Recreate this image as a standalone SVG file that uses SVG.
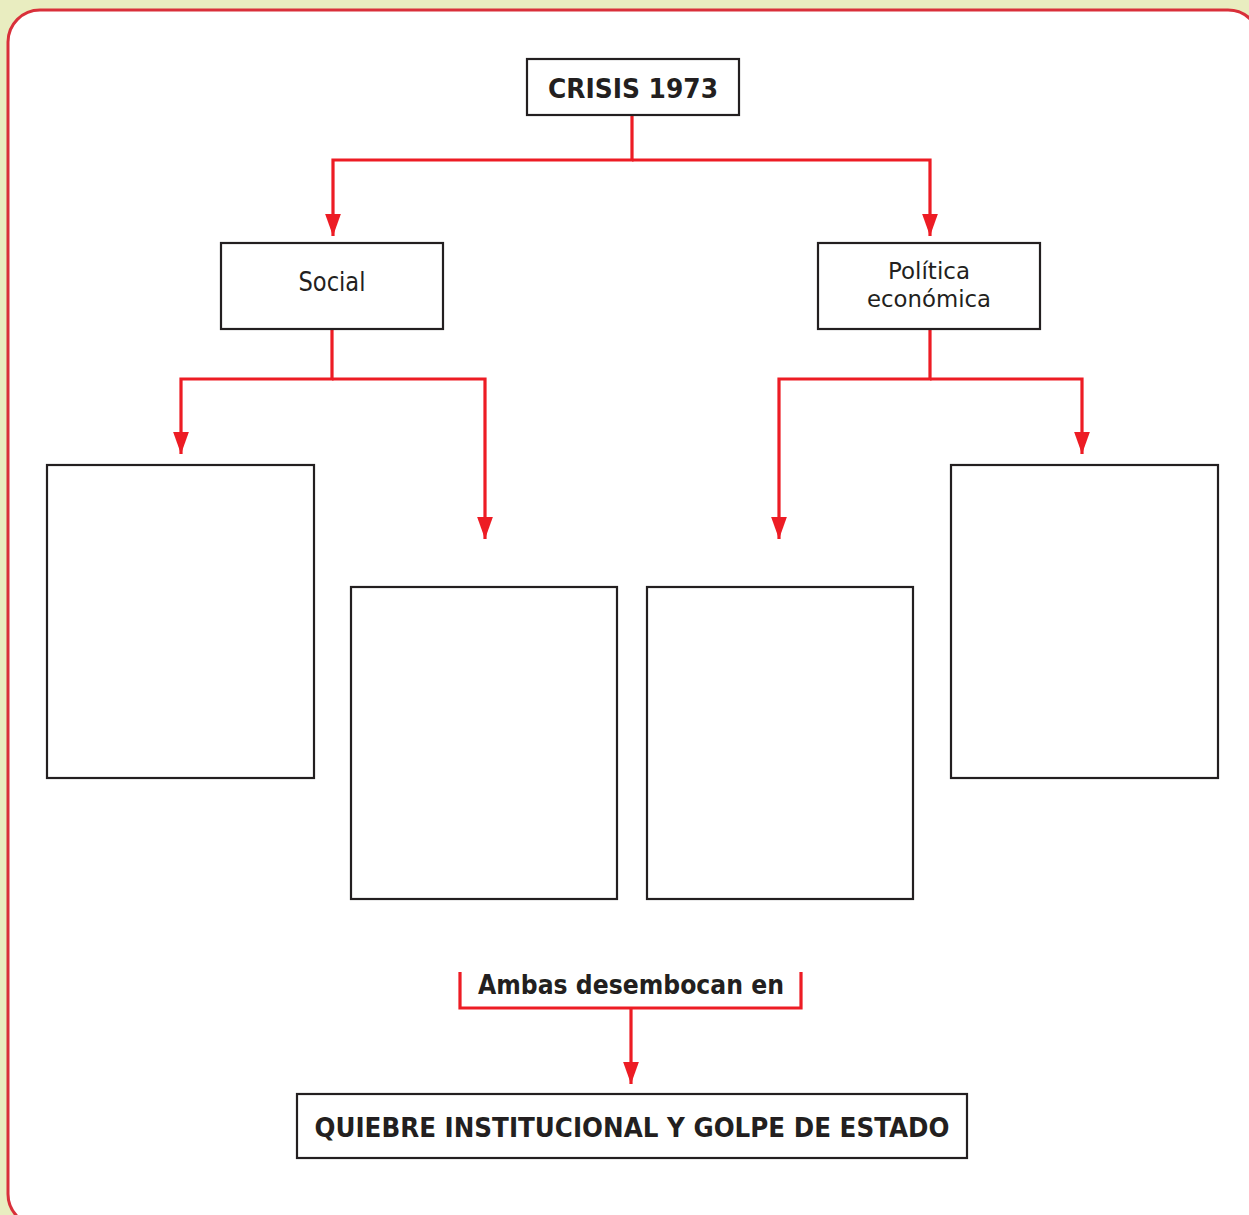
<svg xmlns="http://www.w3.org/2000/svg" width="1249" height="1215" viewBox="0 0 1249 1215">
<defs>
<style>
.box{fill:#fff;stroke:#231f20;stroke-width:2.2}
.c{fill:none;stroke:#ED1C24;stroke-width:3.2}
.t{font-family:"DejaVu Sans","Liberation Sans",sans-serif;fill:#231f20;text-anchor:middle}
.b{font-weight:bold;font-size:26px}
.n{font-size:26px}
.s{font-size:23px}
</style>
<marker id="ah" viewBox="0 0 14 10" refX="14" refY="5" markerWidth="7" markerHeight="5" markerUnits="strokeWidth" orient="auto">
<path d="M0,0 L14,5 L0,10 z" fill="#ED1C24"/>
</marker>
</defs>
<rect x="0" y="0" width="1249" height="1215" fill="#E9EDC0"/>
<rect x="8" y="10" width="1252" height="1216" rx="32" ry="32" fill="#fff" stroke="#D9303A" stroke-width="3"/>
<g id="connectors">
<path class="c" d="M632,115 V160 H333 V236" marker-end="url(#ah)"/>
<path class="c" d="M632,160 H930 V236" marker-end="url(#ah)"/>
<path class="c" d="M332,329 V379 H181 V454" marker-end="url(#ah)"/>
<path class="c" d="M332,379 H485 V539" marker-end="url(#ah)"/>
<path class="c" d="M930,329 V379 H779 V539" marker-end="url(#ah)"/>
<path class="c" d="M930,379 H1082 V454" marker-end="url(#ah)"/>
<path class="c" d="M460,972 V1008 H801 V972"/>
<path class="c" d="M631,1008 V1084" marker-end="url(#ah)"/>
</g>
<g id="crisis">
<rect class="box" x="527" y="59" width="212" height="56"/>
<text class="t b" x="633" y="98" textLength="170" lengthAdjust="spacingAndGlyphs">CRISIS 1973</text>
</g>
<g id="social">
<rect class="box" x="221" y="243" width="222" height="86"/>
<text class="t n" x="332" y="291" textLength="67" lengthAdjust="spacingAndGlyphs">Social</text>
</g>
<g id="politica">
<rect class="box" x="818" y="243" width="222" height="86"/>
<text class="t s" x="929" y="279" textLength="82" lengthAdjust="spacingAndGlyphs">Política</text>
<text class="t s" x="929" y="307" textLength="124" lengthAdjust="spacingAndGlyphs">económica</text>
</g>
<g id="box1"><rect class="box" x="47" y="465" width="267" height="313"/></g>
<g id="box2"><rect class="box" x="351" y="587" width="266" height="312"/></g>
<g id="box3"><rect class="box" x="647" y="587" width="266" height="312"/></g>
<g id="box4"><rect class="box" x="951" y="465" width="267" height="313"/></g>
<g id="ambas">
<text class="t b" x="631" y="994" textLength="306" lengthAdjust="spacingAndGlyphs">Ambas desembocan en</text>
</g>
<g id="quiebre">
<rect class="box" x="297" y="1094" width="670" height="64"/>
<text class="t b" x="632" y="1137" textLength="635" lengthAdjust="spacingAndGlyphs">QUIEBRE INSTITUCIONAL Y GOLPE DE ESTADO</text>
</g>
</svg>
